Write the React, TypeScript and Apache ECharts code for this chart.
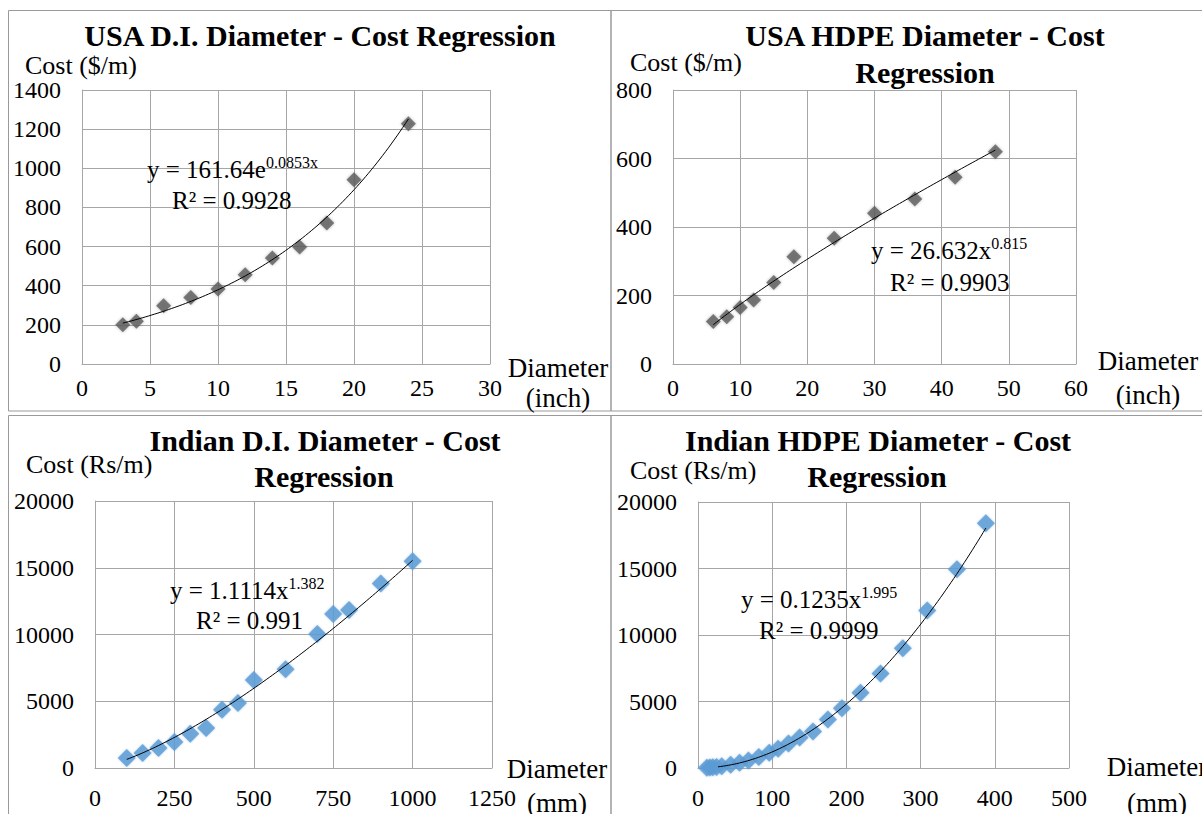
import React, { useEffect, useRef } from "react";
import * as echarts from "echarts";

// ---------- data ----------
const usaDiX = [3, 4, 6, 8, 10, 12, 14, 16, 18, 20, 24];
const usaDiY = [200, 218, 298, 340, 383, 456, 541, 598, 720, 942, 1227];

const usaHdpeX = [6, 8, 10, 12, 15, 18, 24, 30, 36, 42, 48];
const usaHdpeY = [124, 138, 165, 187, 238, 313, 367, 440, 482, 545, 620];

const indDiX = [100, 150, 200, 250, 300, 350, 400, 450, 500, 600, 700, 750, 800, 900, 1000];
const indDiY = [750, 1120, 1500, 1950, 2560, 2990, 4360, 4860, 6600, 7400, 10040, 11530, 11830, 13820, 15490];

const indHdpeX = [12, 16, 20, 25, 32, 44, 56, 68, 82, 96, 108, 122, 137, 155, 175, 194, 219, 246, 276, 309, 349, 388];
const indHdpeY = [20, 35, 50, 80, 130, 240, 390, 570, 830, 1140, 1440, 1850, 2300, 2750, 3650, 4500, 5650, 7100, 9000, 11850, 14950, 18400];

// regression coefficients shown on the chart
const usaDiFit = { a: 161.64, b: 0.0853, r2: "0.9928" }; // exponential
const usaHdpeFit = { a: 26.632, b: 0.815, r2: "0.9903" }; // power
const indDiFit = { a: 1.1114, b: 1.382, r2: "0.991" }; // power
const indHdpeFit = { a: 0.1235, b: 1.995, r2: "0.9999" }; // power
const trendRanges = [[3, 24], [6, 48], [100, 1000], [27, 388]];

const titles = [
  ["USA D.I. Diameter - Cost Regression"],
  ["USA HDPE Diameter - Cost", "Regression"],
  ["Indian D.I. Diameter - Cost", "Regression"],
  ["Indian HDPE Diameter - Cost", "Regression"],
];
const yNames = ["Cost ($/m)", "Cost ($/m)", "Cost (Rs/m)", "Cost (Rs/m)"];
const xNames = ["Diameter\n(inch)", "Diameter\n(inch)", "Diameter\n(mm)", "Diameter\n(mm)"];

const FONT = "'Liberation Serif', 'Times New Roman', serif";

function zip(xs: number[], ys: number[]) {
  return xs.map((x, i) => [x, ys[i]]);
}
function curve(fn: (x: number) => number, range: number[], n = 100) {
  const out: number[][] = [];
  for (let i = 0; i <= n; i++) {
    const x = range[0] + ((range[1] - range[0]) * i) / n;
    out.push([x, fn(x)]);
  }
  return out;
}

export default function App() {
  const ref = useRef<HTMLDivElement>(null);
  useEffect(() => {
    if (!ref.current) return;
    const chart = echarts.init(ref.current, null, { renderer: "svg" });
    const GRID_C = "#a6a6a6";
    const BORDER_C = "#9a9a9a";

    const grids = [
      { left: 82, top: 90, width: 408, height: 274 },
      { left: 673, top: 90, width: 403, height: 274 },
      { left: 95, top: 501, width: 397, height: 267 },
      { left: 698, top: 502, width: 371, height: 266 },
    ];
    const xRanges = [
      [0, 30, 5],
      [0, 60, 10],
      [0, 1250, 250],
      [0, 500, 100],
    ];
    const yRanges = [
      [0, 1400, 200],
      [0, 800, 200],
      [0, 20000, 5000],
      [0, 20000, 5000],
    ];
    const xLabelMargin = [12, 12, 18, 18];
    const plain = (v: number) => String(v);

    const xAxis = grids.map((_, i) => ({
      type: "value",
      gridIndex: i,
      min: xRanges[i][0],
      max: xRanges[i][1],
      interval: xRanges[i][2],
      axisLine: { show: true, lineStyle: { color: GRID_C, width: 1 } },
      axisTick: { show: false },
      splitLine: { show: true, lineStyle: { color: GRID_C, width: 1 } },
      axisLabel: { fontFamily: FONT, fontSize: 24, color: "#000", margin: xLabelMargin[i], formatter: plain },
    }));
    const yAxis = grids.map((_, i) => ({
      type: "value",
      gridIndex: i,
      min: yRanges[i][0],
      max: yRanges[i][1],
      interval: yRanges[i][2],
      axisLine: { show: true, lineStyle: { color: GRID_C, width: 1 } },
      axisTick: { show: false },
      splitLine: { show: true, lineStyle: { color: GRID_C, width: 1 } },
      axisLabel: { fontFamily: FONT, fontSize: 24, color: "#000", margin: 21, formatter: plain },
    }));

    const greyMarker = {
      color: "#5c5c5c",
      shadowBlur: 3,
      shadowColor: "rgba(0,0,0,0.35)",
    };
    const blueMarker = { color: "#5b9bd5", shadowBlur: 2, shadowColor: "rgba(91,155,213,0.6)" };

    const pts = [
      zip(usaDiX, usaDiY),
      zip(usaHdpeX, usaHdpeY),
      zip(indDiX, indDiY),
      zip(indHdpeX, indHdpeY),
    ];
    const fits = [
      (x: number) => usaDiFit.a * Math.exp(usaDiFit.b * x),
      (x: number) => usaHdpeFit.a * Math.pow(x, usaHdpeFit.b),
      (x: number) => indDiFit.a * Math.pow(x, indDiFit.b),
      (x: number) => indHdpeFit.a * Math.pow(x, indHdpeFit.b),
    ];

    const series: any[] = [];
    pts.forEach((d, i) => {
      series.push({
        type: "scatter",
        xAxisIndex: i,
        yAxisIndex: i,
        data: d,
        symbol: "diamond",
        symbolSize: i < 2 ? 15 : 18,
        itemStyle: i < 2 ? greyMarker : blueMarker,
        z: 2,
        silent: true,
      });
      series.push({
        type: "line",
        xAxisIndex: i,
        yAxisIndex: i,
        data: curve(fits[i], trendRanges[i]),
        showSymbol: false,
        symbol: "none",
        lineStyle: { color: "#000", width: 1 },
        z: 3,
        silent: true,
      });
    });

    const txt = (x: number, y: number, text: string, size: number, opts: any = {}) => ({
      type: "text",
      x,
      y,
      z: 10,
      style: {
        text,
        fontFamily: FONT,
        fontSize: size,
        fill: "#000",
        textAlign: opts.align || "left",
        textVerticalAlign: "middle",
        verticalAlign: "middle",
        fontWeight: opts.bold ? "bold" : "normal",
        lineHeight: opts.lineHeight,
      },
    });

    const eq = (x: number, y: number, main: string, sup: string) => ({
      type: "text",
      x,
      y,
      z: 10,
      style: {
        text: `{m|${main}}{s|${sup}}`,
        fontFamily: FONT,
        fill: "#000",
        textAlign: "left",
        textVerticalAlign: "middle",
        verticalAlign: "middle",
        rich: {
          m: { fontFamily: FONT, fontSize: 25, lineHeight: 30, fill: "#000" },
          s: { fontFamily: FONT, fontSize: 16, verticalAlign: "top", fill: "#000" },
        },
      },
    });

    const border = (x: number, y: number, w: number, h: number) => ({
      type: "rect",
      z: 0,
      shape: { x, y, width: w, height: h },
      style: { fill: "none", stroke: BORDER_C, lineWidth: 1 },
    });

    const graphic: any[] = [
      border(8.5, 10.5, 602.5, 400.5),
      border(611, 10.5, 600, 400.5),
      border(8.5, 415.5, 602.5, 420),
      border(611, 415.5, 600, 420),
      // titles
      txt(320, 35, titles[0][0], 30, { align: "center", bold: true }),
      txt(925, 35, titles[1][0], 30, { align: "center", bold: true }),
      txt(925, 72, titles[1][1], 30, { align: "center", bold: true }),
      txt(325, 440, titles[2][0], 30, { align: "center", bold: true }),
      txt(324, 476, titles[2][1], 30, { align: "center", bold: true }),
      txt(878, 440, titles[3][0], 30, { align: "center", bold: true }),
      txt(877, 476, titles[3][1], 30, { align: "center", bold: true }),
      // y axis names
      txt(25, 65, yNames[0], 26),
      txt(630, 62, yNames[1], 26),
      txt(26, 464, yNames[2], 26),
      txt(630, 470, yNames[3], 26),
      // x axis names
      txt(558, 383, xNames[0], 27, { align: "center", lineHeight: 30 }),
      txt(1148, 378, xNames[1], 27, { align: "center", lineHeight: 34 }),
      txt(557, 786, xNames[2], 27, { align: "center", lineHeight: 34 }),
      txt(1157, 785, xNames[3], 27, { align: "center", lineHeight: 36 }),
      // equations
      eq(147, 169, "y = 161.64e", "0.0853x"),
      txt(172, 200, "R² = " + usaDiFit.r2, 25),
      eq(871, 250, "y = 26.632x", "0.815"),
      txt(890, 282, "R² = " + usaHdpeFit.r2, 25),
      eq(170, 590, "y = 1.1114x", "1.382"),
      txt(196, 620, "R² = " + indDiFit.r2, 25),
      eq(741, 599, "y = 0.1235x", "1.995"),
      txt(759, 630, "R² = " + indHdpeFit.r2, 25),
    ];

    chart.setOption({
      animation: false,
      backgroundColor: "#ffffff",
      grid: grids,
      xAxis,
      yAxis,
      series,
      graphic,
    });
    return () => chart.dispose();
  }, []);

  return (
    <div
      ref={ref}
      style={{ position: "fixed", left: 0, top: 0, width: 1202, height: 814, background: "#fff" }}
    />
  );
}
